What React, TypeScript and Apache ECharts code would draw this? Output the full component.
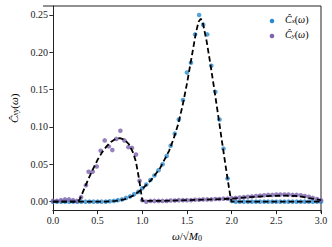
import React, { useEffect, useRef } from "react";
import * as echarts from "echarts";

// Sampling grid of the measured points (omega / sqrt(M0))
const omegaGrid = [
  0, 0.045, 0.091, 0.136, 0.182, 0.227, 0.273, 0.318, 0.364, 0.409, 0.455, 0.5, 0.545, 0.591,
  0.636, 0.682, 0.727, 0.773, 0.818, 0.864, 0.909, 0.955, 1.0, 1.045, 1.091, 1.136, 1.182, 1.227,
  1.273, 1.318, 1.364, 1.409, 1.455, 1.5, 1.545, 1.591, 1.636, 1.682, 1.727, 1.773, 1.818, 1.864,
  1.909, 1.955, 2.0, 2.045, 2.091, 2.136, 2.182, 2.227, 2.273, 2.318, 2.364, 2.409, 2.455, 2.5,
  2.545, 2.591, 2.636, 2.682, 2.727, 2.773, 2.818, 2.864, 2.909, 2.955, 3.0,
];

// Measured C_x(omega)
const cxValues = [
  0, 0, 0, 0, 0, 0, 0, 0, 0, 0, 0, 0, 0, 0,
  0.0005, 0.001, 0.002, 0.003, 0.005, 0.007, 0.01, 0.013, 0.018, 0.023, 0.029, 0.035, 0.042, 0.05,
  0.061, 0.075, 0.091, 0.11, 0.136, 0.173, 0.186, 0.224, 0.25, 0.237, 0.224, 0.182, 0.147, 0.11,
  0.071, 0.031, 0.001, 0, 0, 0, 0, 0, 0, 0, 0, 0, 0, 0,
  0, 0, 0, 0, 0, 0, 0, 0, 0, 0, 0,
];

// Measured C_y(omega)
const cyOmega = [
  0, 0.045, 0.09, 0.135, 0.18, 0.225, 0.27, 0.315, 0.37, 0.4, 0.445, 0.49, 0.535, 0.58, 0.625,
  0.665, 0.71, 0.755, 0.8, 0.845, 0.885, 0.93, 0.97, 1.0,
  1.045, 1.091, 1.136, 1.182, 1.227, 1.273, 1.318, 1.364, 1.409, 1.455, 1.5, 1.545, 1.591, 1.636,
  1.682, 1.727, 1.773, 1.818, 1.864, 1.909, 1.955, 2.0, 2.045, 2.091, 2.136, 2.182, 2.227, 2.273,
  2.318, 2.364, 2.409, 2.455, 2.5, 2.545, 2.591, 2.636, 2.682, 2.727, 2.773, 2.818, 2.864, 2.909,
  2.955, 3.0,
];
const cyValues = [
  0.001, 0.001, 0.002, 0.003, 0.003, 0.002, 0.001, 0.006, 0.022, 0.04, 0.04, 0.047, 0.068, 0.082,
  0.074, 0.069, 0.084, 0.095, 0.082, 0.073, 0.072, 0.063, 0.028, 0.002,
  0.0, 0.001, 0.001, 0.001, 0.001, 0.001, 0.0015, 0.0015, 0.002, 0.002, 0.002, 0.002, 0.0025,
  0.0025, 0.003, 0.003, 0.003, 0.0035, 0.0035, 0.004, 0.004, 0.0045, 0.005, 0.0055, 0.006, 0.0065,
  0.007, 0.0075, 0.008, 0.0085, 0.009, 0.009, 0.0095, 0.0095, 0.0095, 0.0095, 0.009, 0.009, 0.0085,
  0.0075, 0.0065, 0.005, 0.0035, 0.002,
];

// Theory curves (dashed)
const cxTheoryOmega = [
  0, 0.5, 0.6, 0.7, 0.8, 0.9, 1.0, 1.1, 1.2, 1.3, 1.35, 1.4, 1.45, 1.5, 1.55, 1.6, 1.63, 1.655,
  1.68, 1.72, 1.76, 1.8, 1.85, 1.9, 1.95, 1.99, 2.0, 3.0,
];
const cxTheoryValues = [
  0, 0, 0.0002, 0.001, 0.003, 0.008, 0.017, 0.029, 0.045, 0.068, 0.084, 0.103, 0.128, 0.158,
  0.192, 0.226, 0.241, 0.245, 0.238, 0.215, 0.186, 0.155, 0.115, 0.074, 0.034, 0.004, 0, 0,
];
const cyTheoryOmega = [
  0, 0.28, 0.3, 0.35, 0.4, 0.45, 0.5, 0.55, 0.6, 0.65, 0.7, 0.75, 0.8, 0.85, 0.9, 0.93, 0.96,
  0.98, 1.0, 1.2, 1.5, 1.8, 2.0, 2.2, 2.4, 2.6, 2.75, 2.85, 3.0,
];
const cyTheoryValues = [
  0, 0, 0.003, 0.017, 0.031, 0.044, 0.056, 0.066, 0.074, 0.08, 0.084, 0.085, 0.083, 0.077, 0.065,
  0.053, 0.033, 0.018, 0.001, 0.001, 0.002, 0.003, 0.004, 0.006, 0.0075, 0.008, 0.0075, 0.005,
  0.002,
];

const xTicks = [0, 0.5, 1.0, 1.5, 2.0, 2.5, 3.0];
const yTicks = [0, 0.05, 0.1, 0.15, 0.2, 0.25];

const BLUE = "#2c8bcf";
const PURPLE = "#7b63ad";
const FONT = "Liberation Serif";

function makeRich(size: number) {
  const sub = Math.round(size * 0.7);
  return {
    i: { fontFamily: FONT, fontStyle: "italic", fontSize: size, color: "#000" },
    n: { fontFamily: FONT, fontSize: size, color: "#000" },
    s: { fontFamily: FONT, fontStyle: "italic", fontSize: sub, color: "#000", verticalAlign: "bottom", padding: [Math.round(size * 0.4), 0, 0, 0] },
    s0: { fontFamily: FONT, fontSize: sub, color: "#000", verticalAlign: "bottom", padding: [Math.round(size * 0.4), 0, 0, 0] },
  };
}

export default function App() {
  const ref = useRef<HTMLDivElement>(null);
  useEffect(() => {
    if (!ref.current) return;
    const chart = echarts.init(ref.current, null, { renderer: "svg" });
    const zip = (xs: number[], ys: number[]) => xs.map((x, i) => [x, ys[i]]);
    const richName = makeRich(11);
    const richLegend = makeRich(10);
    chart.setOption({
      animation: false,
      grid: { left: 43, top: 6, right: 11, bottom: 34, containLabel: false },
      xAxis: {
        type: "value",
        min: 0,
        max: 3,
        interval: 0.5,
        name: "{i|ω}{n|/√}{i|M}{s0|0}",
        nameLocation: "middle",
        nameGap: 16,
        nameTextStyle: { rich: richName },
        axisLine: { onZero: false, lineStyle: { color: "#222", width: 1 } },
        axisTick: { show: true, inside: false, length: 3.5, lineStyle: { color: "#222" }, customValues: xTicks },
        axisLabel: {
          fontFamily: FONT,
          fontSize: 10,
          color: "#222",
          margin: 5,
          customValues: xTicks,
          formatter: (v: number) => v.toFixed(1),
        },
        splitLine: { show: false },
      },
      yAxis: {
        type: "value",
        min: -0.012,
        max: 0.262,
        name: "{i|Ĉ}{s|xy}{n|(}{i|ω}{n|)}",
        nameLocation: "middle",
        nameRotate: 90,
        nameGap: 28,
        nameTextStyle: { rich: richName },
        axisLine: { onZero: false, lineStyle: { color: "#222", width: 1 } },
        axisTick: { show: true, inside: false, length: 3.5, lineStyle: { color: "#222" }, customValues: yTicks },
        axisLabel: {
          fontFamily: FONT,
          fontSize: 10,
          color: "#222",
          margin: 5,
          customValues: yTicks,
          formatter: (v: number) => v.toFixed(2),
        },
        splitLine: { show: false },
      },
      series: [
        {
          type: "scatter",
          data: zip(omegaGrid, cxValues),
          symbolSize: 4.6,
          itemStyle: { color: BLUE },
          z: 2,
        },
        {
          type: "scatter",
          data: zip(cyOmega, cyValues),
          symbolSize: 4.6,
          itemStyle: { color: PURPLE },
          z: 2,
        },
        {
          type: "line",
          data: zip(cxTheoryOmega, cxTheoryValues),
          showSymbol: false,
          lineStyle: { color: "#000", width: 1.8, type: [5.5, 3] },
          z: 3,
        },
        {
          type: "line",
          data: zip(cyTheoryOmega, cyTheoryValues),
          showSymbol: false,
          lineStyle: { color: "#000", width: 1.8, type: [5.5, 3] },
          z: 3,
        },
      ],
      graphic: [
        // top and right spines
        { type: "line", shape: { x1: 43, y1: 6, x2: 321, y2: 6 }, style: { stroke: "#222", lineWidth: 1 } },
        { type: "line", shape: { x1: 321, y1: 6, x2: 321, y2: 213 }, style: { stroke: "#222", lineWidth: 1 } },
        // legend
        { type: "circle", shape: { cx: 272, cy: 21, r: 2.3 }, style: { fill: BLUE } },
        { type: "circle", shape: { cx: 272, cy: 36, r: 2.3 }, style: { fill: PURPLE } },
        {
          type: "text",
          left: 285,
          top: 14,
          style: { text: "{i|Ĉ}{s|x}{n|(}{i|ω}{n|)}", rich: richLegend },
        },
        {
          type: "text",
          left: 285,
          top: 29,
          style: { text: "{i|Ĉ}{s|y}{n|(}{i|ω}{n|)}", rich: richLegend },
        },
      ],
    });
    return () => chart.dispose();
  }, []);
  return (
    <div
      ref={ref}
      style={{ position: "absolute", left: 0, top: 0, width: 332, height: 247 }}
    />
  );
}
